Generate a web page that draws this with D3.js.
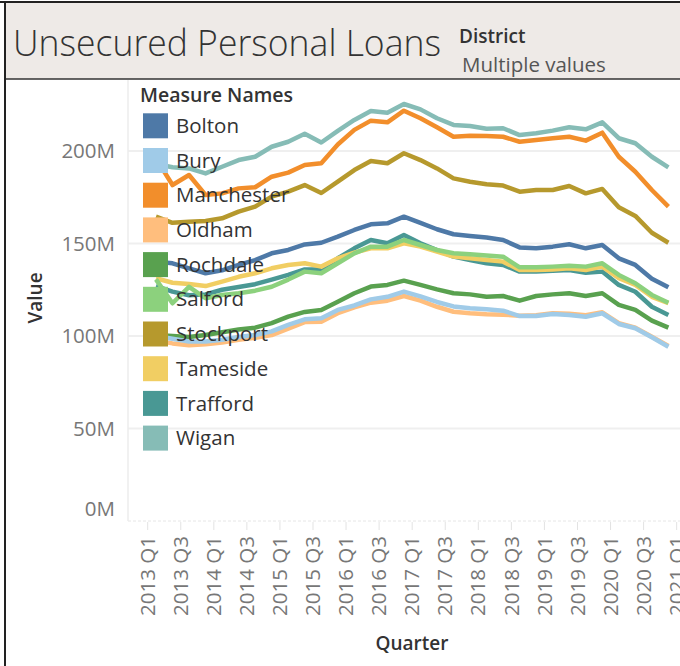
<!DOCTYPE html>
<html lang="en">
<head>
<meta charset="utf-8">
<title>Unsecured Personal Loans</title>
<script src="https://cdn.jsdelivr.net/npm/d3@7"></script>
<style>
  body { margin: 0; background: #fff; }
  svg text { font-family: "Open Sans", Lato, sans-serif; }
</style>
</head>
<body>
<div id="chart"></div>
<script>
// data, in millions, one value per quarter from 2013 Q1 to 2020 Q4
var quarters = [];
for (var yr = 2013; yr <= 2021; yr++) {
  for (var q = 1; q <= 4; q++) {
    if (yr == 2021 && q > 1) break;
    quarters.push(yr + " Q" + q);
  }
}
var tickLabels = quarters.filter(function(d, i) { return i % 2 == 0; });

var districts = ["Bolton", "Bury", "Manchester", "Oldham", "Rochdale", "Salford",
                 "Stockport", "Tameside", "Trafford", "Wigan"];
var colours = ["#4e79a7", "#a0cbe8", "#f28e2b", "#ffbe7d", "#59a14f", "#8cd17d",
               "#b6992d", "#f1ce63", "#499894", "#86bcb6"];

var bolton = [140.2, 139.3, 136.5, 133.9, 135.5, 138.4, 141, 144.7, 146.5, 149.5, 150.4, 153.7, 157.3, 160.4, 160.9, 164.5,
              161.2, 157.7, 155, 154.1, 153.2, 151.9, 147.9, 147.4, 148.3, 149.6, 147.4, 149.2, 142, 138.4, 131, 126.3];
var bury = [100, 98.5, 97, 97, 98, 99.5, 100.5, 102.5, 106, 109, 109.6, 114.1, 116.5, 119.8, 121.2, 124,
            121.4, 118.4, 116, 115, 114.4, 113.7, 110.8, 110.8, 111.9, 111.4, 110.4, 112.3, 106.5, 104.2, 99.3, 94.2];
var manchester = [196, 181.6, 187, 176.2, 177.1, 179.8, 180.4, 186.1, 188.3, 192.4, 193.4, 203.5, 211.4, 216.4, 215.5, 221.8,
                  217.7, 212.8, 207.7, 208.3, 208.1, 207.7, 205, 205.9, 206.9, 207.7, 205.6, 209.9, 196.9, 188.8, 178.9, 169.9];
var oldham = [97.5, 96, 95, 95.5, 96.5, 98, 99, 100.5, 104, 107.5, 107.7, 112.3, 115.5, 118, 119.1, 121.6,
              119.1, 115.8, 113.1, 112.3, 111.7, 111.5, 111, 111.2, 112.3, 112, 111.2, 112.8, 107, 104.5, 99.6, 94.6];
var rochdale = [100.5, 100, 99.5, 100.5, 102, 103.5, 104.5, 107, 110.5, 113, 114.1, 118.5, 123.1, 126.7, 127.6, 129.9,
                127.6, 125.2, 123.1, 122.5, 121.2, 121.6, 119.1, 121.6, 122.5, 123.1, 121.6, 123.1, 116.8, 114.1, 108.3, 104.5];
var salford = [130.6, 117.7, 126.6, 120.4, 122.2, 123.1, 124.5, 126.6, 130.5, 134.8, 133.9, 139.3, 144.7, 148.3, 148.3, 151.9,
               149.2, 146.5, 144.7, 144.2, 143.5, 142.9, 137.1, 137.1, 137.5, 138, 137.5, 139.3, 133, 128.5, 122.2, 118];
var stockport = [164.5, 161.2, 161.8, 162.2, 163.6, 167.2, 169.9, 175.3, 178, 181.6, 177.3, 183.4, 189.7, 194.6, 193.4, 198.8,
                 195.1, 190.6, 185.2, 183.4, 182, 181.3, 178, 178.9, 178.9, 181.1, 177.1, 179.5, 169.6, 164.9, 155.8, 150.4];
var tameside = [131.2, 128.8, 128.1, 127, 129.4, 132, 133.9, 136.6, 138.4, 139.3, 137.5, 142, 145.1, 147.4, 147.4, 150.1,
                148.3, 145.6, 142.9, 142, 141.1, 140.2, 135.7, 135.7, 136, 136.6, 135.7, 137.5, 131.2, 127.6, 121.2, 117.8];
var trafford = [127, 124, 122, 122.5, 125, 126.5, 128, 130.5, 133, 136, 136, 142, 147.4, 151.9, 150.1, 154.6,
                150.1, 146.5, 142.9, 141.1, 139.3, 138.4, 134.8, 134.8, 135.3, 135.7, 134.2, 134.8, 127.6, 123.9, 115.8, 111.4];
var wigan = [193, 191.2, 190.6, 187.9, 191.5, 195.1, 196.9, 202.3, 205, 209.3, 204.6, 210.9, 216.8, 221.6, 220.7, 225.4,
             222.5, 217.7, 214.1, 213.5, 212, 212.3, 208.6, 209.6, 211, 212.8, 211.7, 215.5, 206.9, 204.2, 196.9, 191.2];

var seriesValues = [bolton, bury, manchester, oldham, rochdale, salford, stockport, tameside, trafford, wigan];
var yTicks = [0, 50, 100, 150, 200];

var width = 680, height = 666;

var svg = d3.select("#chart").append("svg")
  .attr("width", width)
  .attr("height", height);

// header strip
svg.append("rect")
  .attr("x", 5).attr("y", 2)
  .attr("width", width - 5).attr("height", 77)
  .attr("fill", "#eeeae7");
svg.append("line")
  .attr("x1", 0).attr("x2", width).attr("y1", 2).attr("y2", 2)
  .attr("stroke", "#222").attr("stroke-width", 2);
svg.append("line")
  .attr("x1", 5).attr("x2", width).attr("y1", 79).attr("y2", 79)
  .attr("stroke", "#333").attr("stroke-width", 1.5);
svg.append("line")
  .attr("x1", 5).attr("x2", 5).attr("y1", 2).attr("y2", height)
  .attr("stroke", "#222").attr("stroke-width", 2);

svg.append("text")
  .attr("x", 13).attr("y", 56)
  .attr("font-family", "Lato, sans-serif")
  .attr("font-size", 36).attr("font-weight", 300)
  .attr("fill", "#333")
  .attr("textLength", 428).attr("lengthAdjust", "spacingAndGlyphs")
  .text("Unsecured Personal Loans");
svg.append("text")
  .attr("x", 459).attr("y", 43)
  .attr("font-size", 19).attr("font-weight", 600)
  .attr("fill", "#333")
  .text("District");
svg.append("text")
  .attr("x", 462).attr("y", 72)
  .attr("font-size", 20.5)
  .attr("fill", "#555")
  .text("Multiple values");

// scales
var xScale = d3.scaleBand()
  .domain(quarters)
  .range([147.7, 147.7 + quarters.length * 16.53]);

var yScale = d3.scaleLinear()
  .domain([0, 200])
  .range([521, 151]);

// gridlines
svg.append("g").selectAll("line")
  .data(yTicks.filter(function(d) { return d > 0; }))
  .enter().append("line")
  .attr("x1", 128).attr("x2", width)
  .attr("y1", function(d) { return yScale(d); })
  .attr("y2", function(d) { return yScale(d); })
  .attr("stroke", "#efefef").attr("stroke-width", 2);

svg.append("line")
  .attr("x1", 128).attr("x2", width)
  .attr("y1", yScale(0)).attr("y2", yScale(0))
  .attr("stroke", "#e6e6e6").attr("stroke-width", 1)
  .attr("stroke-dasharray", "3,2");

svg.append("line")
  .attr("x1", 128).attr("x2", 128)
  .attr("y1", 80).attr("y2", yScale(0))
  .attr("stroke", "#ececec").attr("stroke-width", 1.5);

// y axis labels
svg.append("g").selectAll("text")
  .data(yTicks)
  .enter().append("text")
  .attr("x", 115)
  .attr("y", function(d) { return d == 0 ? yScale(d) - 12 : yScale(d); })
  .attr("dy", "0.35em")
  .attr("text-anchor", "end")
  .attr("font-size", 20.5)
  .attr("fill", "#777")
  .text(function(d) { return d + "M"; });

svg.append("text")
  .attr("transform", "translate(35,298) rotate(-90)")
  .attr("text-anchor", "middle")
  .attr("dy", "0.35em")
  .attr("font-size", 19)
  .attr("font-weight", 600)
  .attr("fill", "#333")
  .text("Value");

// x axis ticks and labels
var xTicks = svg.append("g").selectAll("g")
  .data(tickLabels)
  .enter().append("g")
  .attr("transform", function(d) { return "translate(" + xScale(d) + ",0)"; });

xTicks.append("line")
  .attr("y1", 522).attr("y2", 530)
  .attr("stroke", "#e3e3e3").attr("stroke-width", 1);

xTicks.append("text")
  .attr("transform", "translate(0,536) rotate(-90)")
  .attr("text-anchor", "end")
  .attr("dy", "0.35em")
  .attr("font-size", 20.5)
  .attr("fill", "#777")
  .text(function(d) { return d; });

svg.append("text")
  .attr("x", 412).attr("y", 643)
  .attr("dy", "0.35em")
  .attr("text-anchor", "middle")
  .attr("font-size", 19)
  .attr("font-weight", 600)
  .attr("fill", "#333")
  .text("Quarter");

// lines, first legend entry drawn last
var line = d3.line()
  .x(function(d, i) { return xScale(quarters[i]) + xScale.bandwidth() / 2; })
  .y(function(d) { return yScale(d); });

var order = d3.range(districts.length).reverse();
svg.append("g").selectAll("path")
  .data(order)
  .enter().append("path")
  .attr("d", function(k) { return line(seriesValues[k]); })
  .attr("fill", "none")
  .attr("stroke", function(k) { return colours[k]; })
  .attr("stroke-width", 4.5)
  .attr("stroke-linejoin", "round");

// legend
svg.append("text")
  .attr("x", 140).attr("y", 95)
  .attr("dy", "0.35em")
  .attr("font-size", 19.5)
  .attr("font-weight", 600)
  .attr("fill", "#333")
  .text("Measure Names");

var legend = svg.append("g").selectAll("g")
  .data(districts)
  .enter().append("g")
  .attr("transform", function(d, i) { return "translate(143," + (113.3 + i * 34.7) + ")"; });

legend.append("rect")
  .attr("width", 25).attr("height", 25)
  .attr("fill", function(d, i) { return colours[i]; });

legend.append("text")
  .attr("x", 33).attr("y", 12.5)
  .attr("dy", "0.35em")
  .attr("font-size", 20.5)
  .attr("fill", "#333")
  .text(function(d) { return d; });
</script>
</body>
</html>
